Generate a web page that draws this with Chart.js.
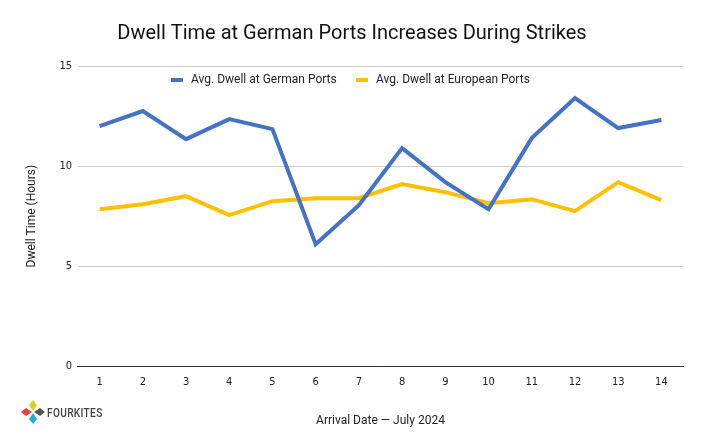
<!DOCTYPE html>
<html>
<head>
<meta charset="utf-8">
<script src="https://cdn.jsdelivr.net/npm/chart.js@4/dist/chart.umd.min.js"></script>
<style>
  html, body { margin: 0; padding: 0; background: #fff; }
  #wrap { position: relative; width: 705px; height: 437px; }
  #logo { position: absolute; left: 21px; top: 400px; display: flex; align-items: center; }
  #logo span { font-family: 'Roboto', sans-serif; font-size: 13px; font-weight: 500; color: #444; margin-left: 2px; display: inline-block; transform: scaleX(0.78); transform-origin: left center; letter-spacing: 0.4px; }
</style>
</head>
<body>
<div id="wrap">
  <canvas id="dwellChart" width="705" height="437"></canvas>
  <div id="logo">
    <svg width="24" height="24" viewBox="0 0 24 24">
      <polygon points="12,0 16,5 12,11 8,5" fill="#d8d21e"/>
      <polygon points="24,12 19,16 13,12 19,8" fill="#555"/>
      <polygon points="12,24 8,19 12,13 16,19" fill="#29a8e0"/>
      <polygon points="0,12 5,8 11,12 5,16" fill="#e8403c"/>
    </svg>
    <span>FOURKITES</span>
  </div>
</div>
<script>
const days = ['1', '2', '3', '4', '5', '6', '7', '8', '9', '10', '11', '12', '13', '14'];
const germanDwell = [12.0, 12.75, 11.35, 12.35, 11.85, 6.1, 8.05, 10.9, 9.2, 7.85, 11.4, 13.4, 11.9, 12.3];
const europeanDwell = [7.85, 8.1, 8.5, 7.55, 8.25, 8.4, 8.4, 9.1, 8.7, 8.15, 8.35, 7.75, 9.2, 8.3];
const yTicks = [0, 5, 10, 15];

// Légende dessinée dans la zone du graphique
const insideLegend = {
    id: 'insideLegend',
    afterDraw(chart) {
        const ctx = chart.ctx;
        const starts = [171, 356];
        ctx.save();
        ctx.font = '12px Roboto, sans-serif';
        ctx.textBaseline = 'middle';
        chart.data.datasets.forEach((ds, i) => {
            const x = starts[i];
            ctx.fillStyle = ds.borderColor;
            ctx.fillRect(x, 78, 12, 4);
            ctx.fillStyle = '#222';
            ctx.fillText(ds.label, x + 20, 80);
        });
        ctx.restore();
    }
};

const ctx = document.getElementById('dwellChart').getContext('2d');
new Chart(ctx, {
    type: 'line',
    data: {
        labels: days,
        datasets: [{
            label: 'Avg. Dwell at German Ports',
            data: germanDwell,
            borderColor: '#4472c4',
            borderWidth: 4,
            pointRadius: 0,
            tension: 0
        }, {
            label: 'Avg. Dwell at European Ports',
            data: europeanDwell,
            borderColor: '#ffc000',
            borderWidth: 4,
            pointRadius: 0,
            tension: 0
        }]
    },
    options: {
        responsive: false,
        animation: false,
        layout: { padding: { left: 21, right: 22, top: 22, bottom: 5 } },
        plugins: {
            legend: { display: false },
            tooltip: { enabled: false },
            title: {
                display: true,
                text: 'Dwell Time at German Ports Increases During Strikes',
                color: '#111',
                font: { family: 'Roboto', size: 20, weight: 'normal' },
                padding: { top: 0, bottom: 20 }
            }
        },
        scales: {
            x: {
                offset: true,
                grid: { display: false, drawTicks: false },
                border: { color: '#333', width: 1 },
                ticks: { color: '#222', font: { family: 'DejaVu Sans Condensed', size: 11 }, padding: 9 },
                title: {
                    display: true,
                    text: 'Arrival Date — July 2024',
                    color: '#222',
                    font: { family: 'Roboto', size: 12 },
                    padding: { top: 16 }
                }
            },
            y: {
                min: 0,
                max: 15,
                afterBuildTicks: axis => { axis.ticks = yTicks.map(v => ({ value: v })); },
                grid: { color: '#cccccc', drawTicks: false },
                border: { display: false },
                ticks: { color: '#222', font: { family: 'DejaVu Sans Condensed', size: 11 }, padding: 6 },
                title: {
                    display: true,
                    text: 'Dwell Time (Hours)',
                    color: '#222',
                    font: { family: 'Roboto', size: 12 },
                    padding: { bottom: 14 }
                }
            }
        }
    },
    plugins: [insideLegend]
});
</script>
</body>
</html>
